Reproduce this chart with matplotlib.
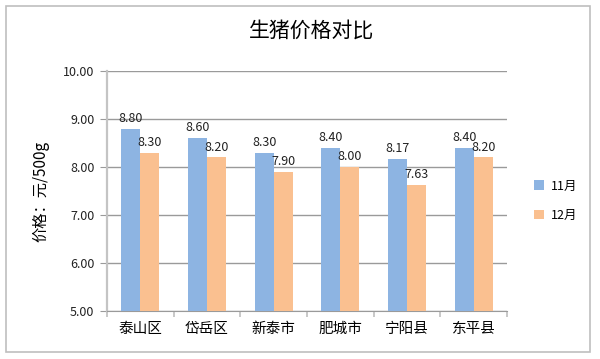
import numpy as np
import matplotlib
matplotlib.use("Agg")
import matplotlib.pyplot as plt
from matplotlib.patches import Rectangle

plt.rcParams['font.family'] = ['Noto Sans CJK SC', 'DejaVu Sans']

categories = ["泰山区", "岱岳区", "新泰市", "肥城市", "宁阳县", "东平县"]
nov = [8.80, 8.60, 8.30, 8.40, 8.17, 8.40]
dec = [8.30, 8.20, 7.90, 8.00, 7.63, 8.20]
series_names = ["11月", "12月"]
yticks = [5, 6, 7, 8, 9, 10]

blue = "#8DB4E2"
orange = "#FAC090"
grid_col = "#9A9A9A"

fig = plt.figure(figsize=(6, 3.59), dpi=100)
fig.patches.append(Rectangle((6 / 600, 1 - 352 / 359), 584 / 600, 346 / 359,
                             transform=fig.transFigure, fill=False,
                             edgecolor="#BFBFBF", linewidth=1.2))

ax = fig.add_axes([107 / 600, 1 - 311 / 359, 400 / 600, 240 / 359])

x = np.arange(len(categories))
w = 0.285
b1 = ax.bar(x - w / 2, nov, w, color=blue, label=series_names[0], zorder=3)
b2 = ax.bar(x + w / 2, dec, w, color=orange, label=series_names[1], zorder=3)

for bars, vals in ((b1, nov), (b2, dec)):
    for rect, v in zip(bars, vals):
        ax.text(rect.get_x() + rect.get_width() / 2, v + 0.08, f"{v:.2f}",
                ha="center", va="bottom", fontsize=9, color="#222222")

ax.set_xlim(-0.5, len(categories) - 0.5)
ax.set_ylim(5, 10)
ax.set_yticks(yticks)
ax.set_yticklabels([f"{t:.2f}" for t in yticks], fontsize=9, color="#222222")
ax.set_xticks(x)
ax.set_xticklabels(categories, fontsize=10.5)
ax.set_xticks(np.arange(len(categories) + 1) - 0.5, minor=True)
ax.tick_params(axis="x", which="major", length=0, pad=8)
ax.tick_params(axis="x", which="minor", length=4, color="#BFBFBF", width=1.2)
ax.tick_params(axis="y", length=5, color=grid_col, pad=4)

ax.yaxis.grid(True, color=grid_col, linewidth=1.0, zorder=0)
for s in ("top", "right"):
    ax.spines[s].set_visible(False)
ax.spines["left"].set_color("#C4C4C4")
ax.spines["left"].set_linewidth(1.6)
ax.spines["bottom"].set_color(grid_col)

ax.set_ylabel("价格：元/500g", fontsize=11, labelpad=10)
fig.text(312 / 600, 1 - 31 / 359, "生猪价格对比", ha="center", va="center", fontsize=15)

ax.legend(loc="center left", bbox_to_anchor=(1.04, 0.46), frameon=False,
          fontsize=9, handlelength=0.8, handleheight=0.8, labelspacing=1.3,
          handletextpad=0.5)

fig.savefig("out.png", dpi=100)
